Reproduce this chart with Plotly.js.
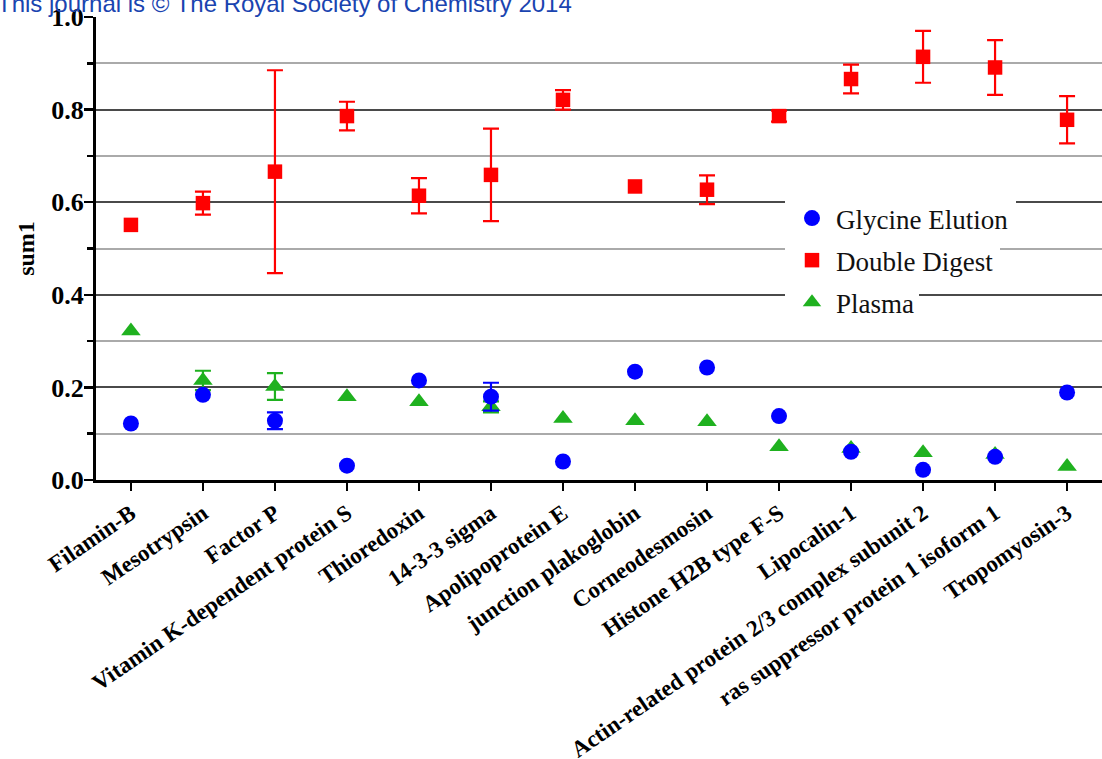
<!DOCTYPE html>
<html>
<head>
<meta charset="utf-8">
<script src="https://cdn.plot.ly/plotly-3.0.1.min.js"></script>
<style>html,body{margin:0;padding:0;background:#fff;}#chart{width:1102px;height:759px;}</style>
</head>
<body>
<div id="chart"></div>
<script>
const categories = ["Filamin-B","Mesotrypsin","Factor P","Vitamin K-dependent protein S","Thioredoxin","14-3-3 sigma","Apolipoprotein E","junction plakoglobin","Corneodesmosin","Histone H2B type F-S","Lipocalin-1","Actin-related protein 2/3 complex subunit 2","ras suppressor protein 1 isoform 1","Tropomyosin-3"];

// NaN = no error bar shown for that point
const glycine     = [0.122, 0.184, 0.128, 0.031, 0.215, 0.180, 0.040, 0.234, 0.243, 0.138, 0.061, 0.022, 0.050, 0.189];
const glycineErr  = [NaN, NaN, 0.018, NaN, NaN, 0.030, NaN, NaN, NaN, NaN, NaN, NaN, NaN, NaN];
const digest      = [0.551, 0.598, 0.666, 0.786, 0.614, 0.659, 0.821, 0.634, 0.627, 0.786, 0.866, 0.914, 0.891, 0.778];
const digestErr   = [NaN, 0.025, 0.219, 0.031, 0.038, 0.100, 0.021, NaN, 0.031, 0.012, 0.031, 0.056, 0.059, 0.051];
const plasma      = [0.322, 0.215, 0.202, 0.180, 0.169, 0.158, 0.133, 0.128, 0.126, 0.072, 0.068, 0.059, 0.055, 0.029];
const plasmaErr   = [NaN, 0.021, 0.029, NaN, NaN, 0.012, NaN, NaN, NaN, NaN, NaN, NaN, NaN, NaN];

const seriesNames = ["Glycine Elution", "Double Digest", "Plasma"];

const serif = "Liberation Serif, Times New Roman, serif";

const traces = [
  {
    name: seriesNames[2], x: categories, y: plasma, type: "scatter", mode: "markers",
    legendgroup: "c", legendrank: 3,
    marker: {symbol: "triangle-up", size: 17, color: "#1fb11f"},
    error_y: {type: "data", array: plasmaErr, visible: true, color: "#1fb11f", thickness: 2.2, width: 8}
  },
  {
    name: seriesNames[1], x: categories, y: digest, type: "scatter", mode: "markers",
    legendgroup: "b", legendrank: 2,
    marker: {symbol: "square", size: 14.5, color: "#ff0000"},
    error_y: {type: "data", array: digestErr, visible: true, color: "#ff0000", thickness: 2.2, width: 8}
  },
  {
    name: seriesNames[0], x: categories, y: glycine, type: "scatter", mode: "markers",
    legendgroup: "a", legendrank: 1,
    marker: {symbol: "circle", size: 16, color: "#0000ff"},
    error_y: {type: "data", array: glycineErr, visible: true, color: "#0000ff", thickness: 2.2, width: 8}
  }
];

const L = 96, PW = 1006, T = 17, PH = 463;
const px = p => (p - L) / PW;
const py = p => 1 - (p - T) / PH;

const layout = {
  width: 1102, height: 759,
  margin: {l: L, r: 0, t: T, b: 279, pad: 0},
  paper_bgcolor: "#ffffff", plot_bgcolor: "#ffffff",
  showlegend: true,
  legend: {
    x: px(788), y: py(194), xanchor: "left", yanchor: "top",
    bgcolor: "rgba(255,255,255,0)", borderwidth: 0,
    font: {family: serif, size: 27, color: "#111"},
    itemwidth: 38,
    traceorder: "grouped", tracegroupgap: 4
  },
  xaxis: {
    type: "category", range: [-0.485, 13.485],
    showline: true, linecolor: "#000", linewidth: 3,
    ticks: "outside", ticklen: 8, tickwidth: 2.5, tickcolor: "#000",
    showgrid: false, zeroline: false,
    tickangle: -34.5,
    tickfont: {family: serif, size: 23, color: "#000", weight: "bold"}
  },
  yaxis: {
    range: [0, 1], dtick: 0.2, tick0: 0, tickformat: ".1f",
    showline: true, linecolor: "#000", linewidth: 3,
    ticks: "outside", ticklen: 9, tickwidth: 2.5, tickcolor: "#000",
    ticklabelstandoff: -5,
    showgrid: true, gridcolor: "#4a4a4a", gridwidth: 2, zeroline: false,
    tickfont: {family: serif, size: 26, color: "#000", weight: "bold"},
    minor: {dtick: 0.1, ticks: "outside", ticklen: 6, tickwidth: 2.5, tickcolor: "#000", showgrid: true, gridcolor: "#aaaaaa", gridwidth: 2},
    title: {text: "sum1", standoff: 10, font: {family: serif, size: 24, color: "#000", weight: "bold"}}
  },
  shapes: [
    {type: "rect", xref: "paper", yref: "paper", layer: "above", x0: px(785), x1: px(1016), y0: py(238), y1: py(198), fillcolor: "#fff", line: {width: 0}},
    {type: "rect", xref: "paper", yref: "paper", layer: "above", x0: px(785), x1: px(1000), y0: py(280), y1: py(238), fillcolor: "#fff", line: {width: 0}},
    {type: "rect", xref: "paper", yref: "paper", layer: "above", x0: px(785), x1: px(919), y0: py(320), y1: py(280), fillcolor: "#fff", line: {width: 0}}
  ],
  annotations: [
    {text: "This journal is © The Royal Society of Chemistry 2014", xref: "paper", yref: "paper",
     x: px(-5), y: py(4), xanchor: "left", yanchor: "middle", showarrow: false,
     font: {family: "Liberation Sans, Arial, sans-serif", size: 24, color: "#1a44b0"}}
  ]
};

Plotly.newPlot("chart", traces, layout, {displayModeBar: false, staticPlot: true});
</script>
</body>
</html>
